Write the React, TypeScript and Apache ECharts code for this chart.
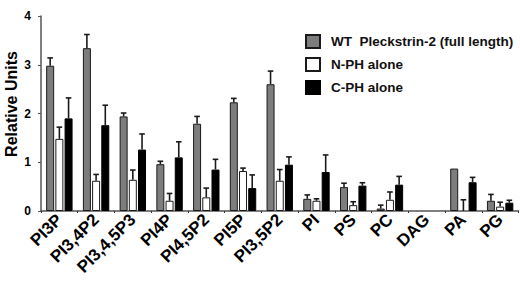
import React, { useEffect, useRef } from "react";
import * as echarts from "echarts";

const categories = ["PI3P", "PI3,4P2", "PI3,4,5P3", "PI4P", "PI4,5P2", "PI5P", "PI3,5P2", "PI", "PS", "PC", "DAG", "PA", "PG"];
const wtValues = [2.98, 3.34, 1.94, 0.96, 1.79, 2.23, 2.6, 0.25, 0.49, 0.05, 0, 0.87, 0.21];
const wtErrors = [0.16, 0.28, 0.07, 0.06, 0.15, 0.08, 0.27, 0.08, 0.08, 0.07, 0, 0, 0.13];
const nphValues = [1.48, 0.62, 0.64, 0.21, 0.28, 0.82, 0.62, 0.21, 0.12, 0.23, 0, 0, 0.09];
const nphErrors = [0.24, 0.13, 0.2, 0.15, 0.19, 0.06, 0.23, 0.04, 0.07, 0.16, 0, 0.23, 0.09];
const cphValues = [1.9, 1.76, 1.26, 1.1, 0.85, 0.47, 0.95, 0.8, 0.52, 0.54, 0, 0.59, 0.17];
const cphErrors = [0.42, 0.41, 0.32, 0.32, 0.21, 0.27, 0.16, 0.35, 0.06, 0.17, 0, 0.1, 0.05];
const seriesNames = ["WT  Pleckstrin-2 (full length)", "N-PH alone", "C-PH alone"];
const yTicks = [0, 1, 2, 3, 4];

const FONT = "'Liberation Sans', Arial, sans-serif";
const BAR_W = 8;
const BAR_GAP = 1.2;

const barData = (values: number[]) => values.map((v) => (v > 0 ? v : "-"));

function errorSeries(values: number[], errors: number[], idx: number) {
  const offset = (idx - 1) * (BAR_W + BAR_GAP);
  return {
    type: "custom",
    name: seriesNames[idx] + " err",
    z: 5,
    data: values.map((v, i) => [i, v, errors[i]]),
    encode: { x: 0, y: 1 },
    renderItem: (params: any, api: any) => {
      const ci = api.value(0);
      const v = api.value(1);
      const e = api.value(2);
      if (!(e > 0)) return null;
      const base = api.coord([ci, v]);
      const top = api.coord([ci, v + e]);
      const x = base[0] + offset;
      const style = { stroke: "#1a1a1a", lineWidth: 1.6 };
      return {
        type: "group",
        children: [
          { type: "line", shape: { x1: x, y1: base[1], x2: x, y2: top[1] }, style },
          { type: "line", shape: { x1: x - 2.8, y1: top[1], x2: x + 2.8, y2: top[1] }, style },
        ],
      };
    },
  };
}

export default function App() {
  const ref = useRef<HTMLDivElement>(null);
  useEffect(() => {
    if (!ref.current) return;
    document.body.style.margin = "0";
    const chart = echarts.init(ref.current, undefined, { renderer: "svg" });
    chart.setOption({
      animation: false,
      grid: { left: 41, right: 1.5, top: 16, bottom: 74 },
      legend: {
        data: seriesNames,
        orient: "vertical",
        left: 305,
        top: 34,
        padding: 0,
        icon: "rect",
        itemWidth: 14,
        itemHeight: 13,
        itemGap: 8,
        textStyle: { fontFamily: FONT, fontWeight: "bold", fontSize: 13.5, color: "#111", padding: [0, 0, 0, 6] },
      },
      xAxis: {
        type: "category",
        data: categories,
        axisLine: { lineStyle: { color: "#555", width: 1.5 } },
        axisTick: { show: true, length: 2, lineStyle: { color: "#333" } },
        axisLabel: {
          interval: 0,
          rotate: 45,
          hideOverlap: false,
          margin: 6,
          fontFamily: FONT,
          fontWeight: "bold",
          fontSize: 17,
          color: "#000",
        },
      },
      yAxis: {
        type: "value",
        min: 0,
        max: 4,
        interval: 1,
        splitLine: { show: false },
        axisLine: { show: true, lineStyle: { color: "#555", width: 1.5 } },
        axisTick: { show: true, length: 3, lineStyle: { color: "#555" } },
        axisLabel: {
          margin: 10,
          fontFamily: FONT,
          fontWeight: "bold",
          fontSize: 12,
          color: "#000",
          formatter: (v: number) => (yTicks.includes(v) ? String(v) : ""),
        },
      },
      graphic: [
        {
          type: "text",
          x: 11,
          y: 104,
          rotation: Math.PI / 2,
          style: {
            text: "Relative Units",
            fontFamily: FONT,
            fontWeight: "bold",
            fontSize: 16,
            fill: "#000",
            textAlign: "center",
            textVerticalAlign: "middle",
          },
        },
      ],
      series: [
        {
          type: "bar",
          name: seriesNames[0],
          data: barData(wtValues),
          barWidth: BAR_W,
          barGap: (BAR_GAP / BAR_W) * 100 + "%",
          itemStyle: { color: "#7d7d7d", borderColor: "#1a1a1a", borderWidth: 1 },
        },
        {
          type: "bar",
          name: seriesNames[1],
          data: barData(nphValues),
          barWidth: BAR_W,
          barGap: (BAR_GAP / BAR_W) * 100 + "%",
          itemStyle: { color: "#ffffff", borderColor: "#1a1a1a", borderWidth: 1 },
        },
        {
          type: "bar",
          name: seriesNames[2],
          data: barData(cphValues),
          barWidth: BAR_W,
          barGap: (BAR_GAP / BAR_W) * 100 + "%",
          itemStyle: { color: "#000000", borderColor: "#000000", borderWidth: 1 },
        },
        errorSeries(wtValues, wtErrors, 0),
        errorSeries(nphValues, nphErrors, 1),
        errorSeries(cphValues, cphErrors, 2),
      ],
    });
    return () => chart.dispose();
  }, []);
  return <div ref={ref} style={{ width: 520, height: 285 }} />;
}
